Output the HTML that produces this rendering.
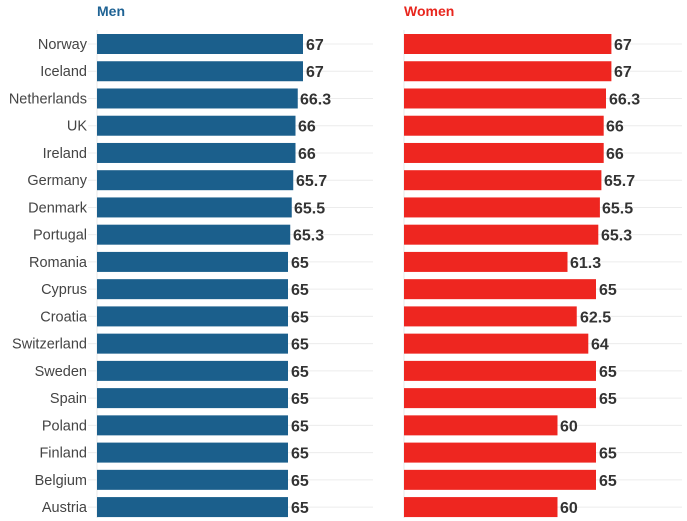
<!DOCTYPE html>
<html><head><meta charset="utf-8"><style>
html,body{margin:0;padding:0;background:#fff;width:687px;height:521px;overflow:hidden}
svg text{font-family:"Liberation Sans",sans-serif}
.l{font-size:14.5px;fill:#444;text-anchor:end}
.v{font-size:16px;font-weight:bold;fill:#333}
.g{stroke:#ececec}
.m{fill:#1b5f8c}
.w{fill:#ee2620}
</style></head><body>
<svg width="687" height="521" xmlns="http://www.w3.org/2000/svg">
<text x="97" y="16" style="font-size:14px;font-weight:bold;fill:#1f6394">Men</text>
<text x="404" y="16" style="font-size:14px;font-weight:bold;fill:#e8261e">Women</text>
<line x1="97" y1="30" x2="97" y2="518" stroke="#e8e8e8"/>
<line x1="404" y1="30" x2="404" y2="518" stroke="#e8e8e8"/>

<g transform="translate(0,44)"><line class="g" x1="88" x2="373"/><line class="g" x1="404" x2="682"/><rect class="m" x="97" y="-10" width="206" height="20"/><rect class="w" x="404" y="-10" width="207.4" height="20"/><text class="l" x="87" y="5">Norway</text><text class="v" x="306" y="6">67</text><text class="v" x="614" y="6">67</text></g>
<g transform="translate(0,71.24)"><line class="g" x1="88" x2="373"/><line class="g" x1="404" x2="682"/><rect class="m" x="97" y="-10" width="206" height="20"/><rect class="w" x="404" y="-10" width="207.4" height="20"/><text class="l" x="87" y="5">Iceland</text><text class="v" x="306" y="6">67</text><text class="v" x="614" y="6">67</text></g>
<g transform="translate(0,98.48)"><line class="g" x1="88" x2="373"/><line class="g" x1="404" x2="682"/><rect class="m" x="97" y="-10" width="200.75" height="20"/><rect class="w" x="404" y="-10" width="202" height="20"/><text class="l" x="87" y="5">Netherlands</text><text class="v" x="300" y="6">66.3</text><text class="v" x="609" y="6">66.3</text></g>
<g transform="translate(0,125.72)"><line class="g" x1="88" x2="373"/><line class="g" x1="404" x2="682"/><rect class="m" x="97" y="-10" width="198.5" height="20"/><rect class="w" x="404" y="-10" width="199.7" height="20"/><text class="l" x="87" y="5">UK</text><text class="v" x="298" y="6">66</text><text class="v" x="606" y="6">66</text></g>
<g transform="translate(0,152.96)"><line class="g" x1="88" x2="373"/><line class="g" x1="404" x2="682"/><rect class="m" x="97" y="-10" width="198.5" height="20"/><rect class="w" x="404" y="-10" width="199.7" height="20"/><text class="l" x="87" y="5">Ireland</text><text class="v" x="298" y="6">66</text><text class="v" x="606" y="6">66</text></g>
<g transform="translate(0,180.2)"><line class="g" x1="88" x2="373"/><line class="g" x1="404" x2="682"/><rect class="m" x="97" y="-10" width="196.25" height="20"/><rect class="w" x="404" y="-10" width="197.4" height="20"/><text class="l" x="87" y="5">Germany</text><text class="v" x="296" y="6">65.7</text><text class="v" x="604" y="6">65.7</text></g>
<g transform="translate(0,207.44)"><line class="g" x1="88" x2="373"/><line class="g" x1="404" x2="682"/><rect class="m" x="97" y="-10" width="194.75" height="20"/><rect class="w" x="404" y="-10" width="195.9" height="20"/><text class="l" x="87" y="5">Denmark</text><text class="v" x="294" y="6">65.5</text><text class="v" x="602" y="6">65.5</text></g>
<g transform="translate(0,234.68)"><line class="g" x1="88" x2="373"/><line class="g" x1="404" x2="682"/><rect class="m" x="97" y="-10" width="193.25" height="20"/><rect class="w" x="404" y="-10" width="194.3" height="20"/><text class="l" x="87" y="5">Portugal</text><text class="v" x="293" y="6">65.3</text><text class="v" x="601" y="6">65.3</text></g>
<g transform="translate(0,261.92)"><line class="g" x1="88" x2="373"/><line class="g" x1="404" x2="682"/><rect class="m" x="97" y="-10" width="191" height="20"/><rect class="w" x="404" y="-10" width="163.5" height="20"/><text class="l" x="87" y="5">Romania</text><text class="v" x="291" y="6">65</text><text class="v" x="570" y="6">61.3</text></g>
<g transform="translate(0,289.16)"><line class="g" x1="88" x2="373"/><line class="g" x1="404" x2="682"/><rect class="m" x="97" y="-10" width="191" height="20"/><rect class="w" x="404" y="-10" width="192" height="20"/><text class="l" x="87" y="5">Cyprus</text><text class="v" x="291" y="6">65</text><text class="v" x="599" y="6">65</text></g>
<g transform="translate(0,316.4)"><line class="g" x1="88" x2="373"/><line class="g" x1="404" x2="682"/><rect class="m" x="97" y="-10" width="191" height="20"/><rect class="w" x="404" y="-10" width="172.75" height="20"/><text class="l" x="87" y="5">Croatia</text><text class="v" x="291" y="6">65</text><text class="v" x="580" y="6">62.5</text></g>
<g transform="translate(0,343.64)"><line class="g" x1="88" x2="373"/><line class="g" x1="404" x2="682"/><rect class="m" x="97" y="-10" width="191" height="20"/><rect class="w" x="404" y="-10" width="184.3" height="20"/><text class="l" x="87" y="5">Switzerland</text><text class="v" x="291" y="6">65</text><text class="v" x="591" y="6">64</text></g>
<g transform="translate(0,370.88)"><line class="g" x1="88" x2="373"/><line class="g" x1="404" x2="682"/><rect class="m" x="97" y="-10" width="191" height="20"/><rect class="w" x="404" y="-10" width="192" height="20"/><text class="l" x="87" y="5">Sweden</text><text class="v" x="291" y="6">65</text><text class="v" x="599" y="6">65</text></g>
<g transform="translate(0,398.12)"><line class="g" x1="88" x2="373"/><line class="g" x1="404" x2="682"/><rect class="m" x="97" y="-10" width="191" height="20"/><rect class="w" x="404" y="-10" width="192" height="20"/><text class="l" x="87" y="5">Spain</text><text class="v" x="291" y="6">65</text><text class="v" x="599" y="6">65</text></g>
<g transform="translate(0,425.36)"><line class="g" x1="88" x2="373"/><line class="g" x1="404" x2="682"/><rect class="m" x="97" y="-10" width="191" height="20"/><rect class="w" x="404" y="-10" width="153.5" height="20"/><text class="l" x="87" y="5">Poland</text><text class="v" x="291" y="6">65</text><text class="v" x="560" y="6">60</text></g>
<g transform="translate(0,452.6)"><line class="g" x1="88" x2="373"/><line class="g" x1="404" x2="682"/><rect class="m" x="97" y="-10" width="191" height="20"/><rect class="w" x="404" y="-10" width="192" height="20"/><text class="l" x="87" y="5">Finland</text><text class="v" x="291" y="6">65</text><text class="v" x="599" y="6">65</text></g>
<g transform="translate(0,479.84)"><line class="g" x1="88" x2="373"/><line class="g" x1="404" x2="682"/><rect class="m" x="97" y="-10" width="191" height="20"/><rect class="w" x="404" y="-10" width="192" height="20"/><text class="l" x="87" y="5">Belgium</text><text class="v" x="291" y="6">65</text><text class="v" x="599" y="6">65</text></g>
<g transform="translate(0,507.08)"><line class="g" x1="88" x2="373"/><line class="g" x1="404" x2="682"/><rect class="m" x="97" y="-10" width="191" height="20"/><rect class="w" x="404" y="-10" width="153.5" height="20"/><text class="l" x="87" y="5">Austria</text><text class="v" x="291" y="6">65</text><text class="v" x="560" y="6">60</text></g>
</svg>
</body></html>
